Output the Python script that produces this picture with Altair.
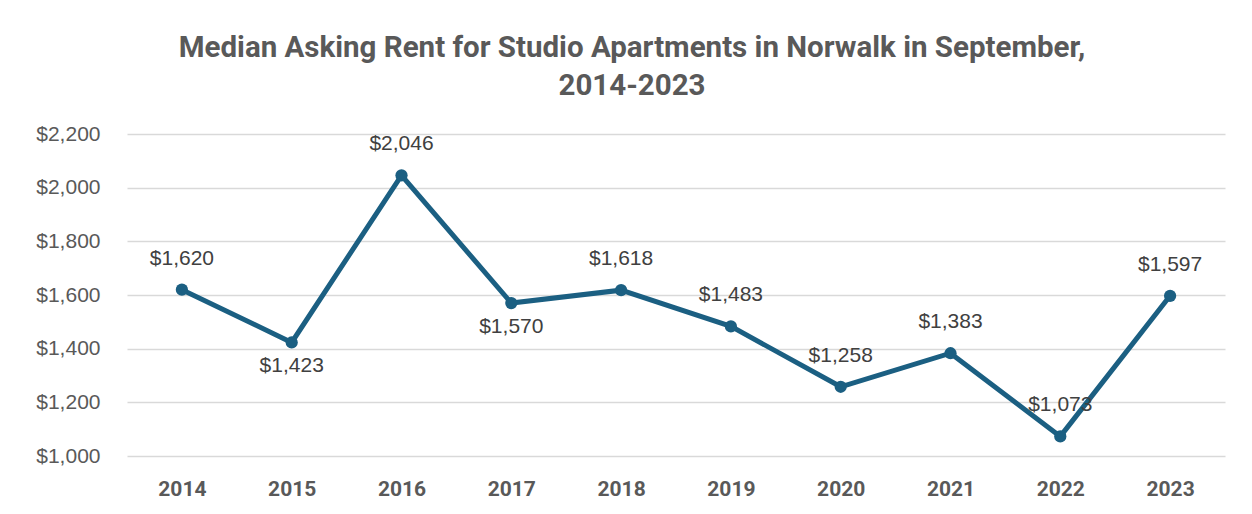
import altair as alt
import pandas as pd

years = ["2014", "2015", "2016", "2017", "2018", "2019", "2020", "2021", "2022", "2023"]
rents = [1620, 1423, 2046, 1570, 1618, 1483, 1258, 1383, 1073, 1597]
labels_below = ["2015", "2017"]
y_ticks = [1000, 1200, 1400, 1600, 1800, 2000, 2200]

df = pd.DataFrame({"year": years, "rent": rents})

FONT = "Liberation Sans"
TFONT = "Roboto"
LINE = "#1B5F82"

base = alt.Chart(df).encode(
    x=alt.X(
        "year:O",
        title=None,
        sort=years,
        axis=alt.Axis(
            labelAngle=0,
            domain=False,
            ticks=False,
            grid=False,
            labelFont=TFONT,
            labelFontSize=21,
            labelFontWeight="bold",
            labelColor="#595959",
            labelPadding=22,
        ),
    ),
    y=alt.Y(
        "rent:Q",
        title=None,
        scale=alt.Scale(domain=[1000, 2200], nice=False, zero=False),
        axis=alt.Axis(
            values=y_ticks,
            format="$,.0f",
            domain=False,
            ticks=False,
            grid=True,
            gridColor="#D9D9D9",
            gridWidth=1.5,
            labelFont=FONT,
            labelFontSize=21,
            labelColor="#595959",
            labelPadding=27,
        ),
    ),
)

line = base.mark_line(color=LINE, strokeWidth=5)
pts = base.mark_circle(color=LINE, size=150, opacity=1)

above = base.transform_filter(
    ~alt.FieldOneOfPredicate(field="year", oneOf=labels_below)
).mark_text(dy=-31, font=FONT, fontSize=21, color="#404040").encode(
    text=alt.Text("rent:Q", format="$,.0f")
)
below = base.transform_filter(
    alt.FieldOneOfPredicate(field="year", oneOf=labels_below)
).mark_text(dy=24, font=FONT, fontSize=21, color="#404040").encode(
    text=alt.Text("rent:Q", format="$,.0f")
)

chart = (
    alt.layer(line, pts, above, below)
    .properties(
        width=1098,
        height=322,
        background="white",
        title=alt.TitleParams(
            text=["Median Asking Rent for Studio Apartments in Norwalk in September,", "2014-2023"],
            font=TFONT,
            fontSize=29.5,
            fontWeight="bold",
            color="#595959",
            anchor="middle",
            offset=22,
            dx=-44,
            lineHeight=38,
        ),
        autosize=alt.AutoSizeParams(type="none"),
        padding={"left": 119, "top": 126, "right": 19, "bottom": 50},
    )
    .configure_view(stroke=None)
)

chart.save("out.html", embed_options={"renderer": "svg", "actions": False})
